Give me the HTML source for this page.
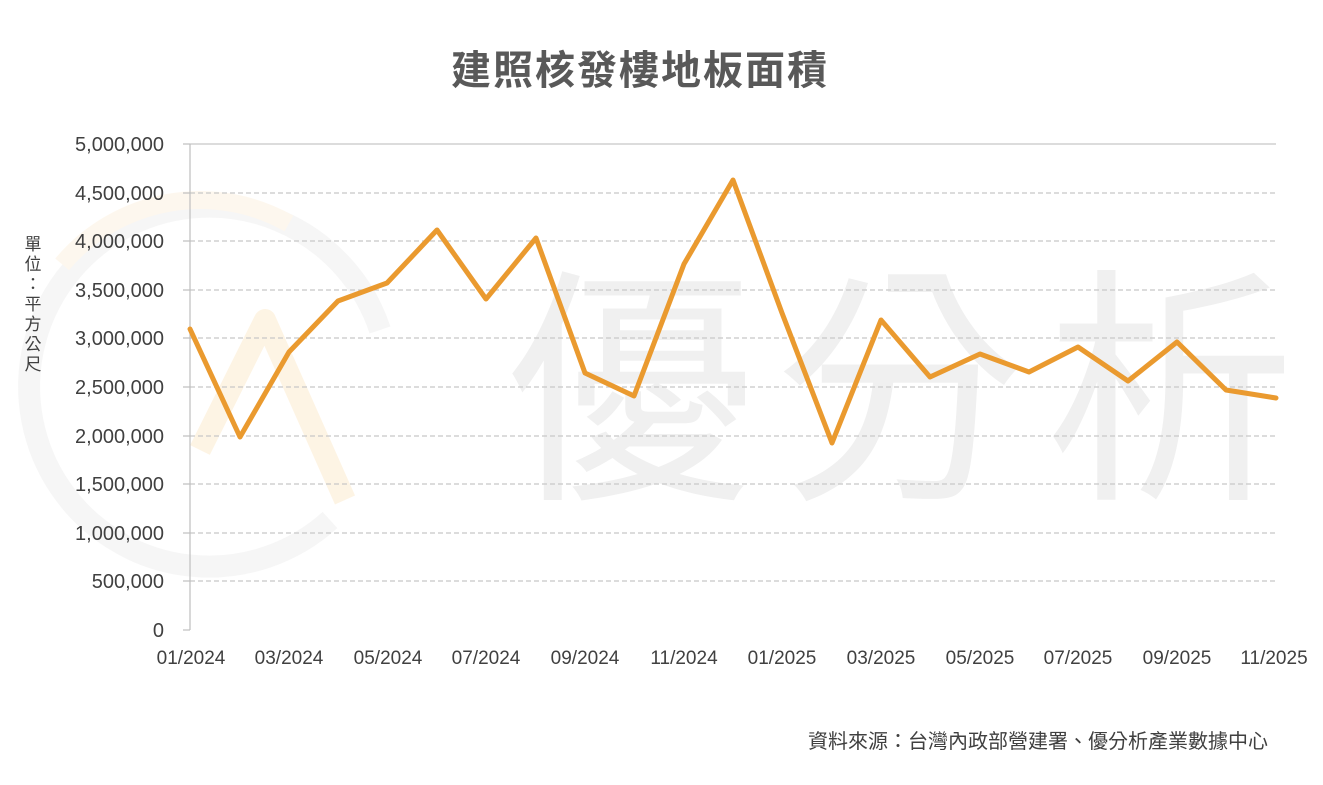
<!DOCTYPE html>
<html><head><meta charset="utf-8"><style>
html,body{margin:0;padding:0;background:#fff;}
svg{display:block;font-family:"Liberation Sans","Noto Sans CJK TC",sans-serif;}
</style></head><body>
<svg width="1323" height="785" viewBox="0 0 1323 785" xmlns="http://www.w3.org/2000/svg">
<rect width="1323" height="785" fill="#fff"/>
<g opacity="0.5">
<path d="M 330 520 A 180 180 0 1 1 380 330" fill="none" stroke="#eeeeee" stroke-width="22"/>
<path d="M 200 450 L 265 320 L 345 500" fill="none" stroke="#fdeacb" stroke-width="22" stroke-linejoin="round"/>
<circle cx="200" cy="380" r="180" fill="none" stroke="#fdf1de" stroke-width="18" stroke-dasharray="250 900" transform="rotate(-140 200 380)"/>
</g>
<text x="910" y="480" font-size="250" fill="#f0f0f0" text-anchor="middle" font-family="'Noto Sans CJK TC',sans-serif" letter-spacing="20">優分析</text>
<text x="640" y="84" font-size="40" font-weight="bold" fill="#595959" text-anchor="middle" font-family="'Noto Sans CJK TC',sans-serif" letter-spacing="2">建照核發樓地板面積</text>
<g stroke="#c8c8c8" stroke-width="1.2" stroke-dasharray="5 3">
<line x1="190" x2="1276" y1="144" y2="144" stroke-dasharray="none"/>
<line x1="190" x2="1276" y1="193" y2="193"/>
<line x1="190" x2="1276" y1="241" y2="241"/>
<line x1="190" x2="1276" y1="290" y2="290"/>
<line x1="190" x2="1276" y1="338" y2="338"/>
<line x1="190" x2="1276" y1="387" y2="387"/>
<line x1="190" x2="1276" y1="436" y2="436"/>
<line x1="190" x2="1276" y1="484" y2="484"/>
<line x1="190" x2="1276" y1="533" y2="533"/>
<line x1="190" x2="1276" y1="581" y2="581"/>
</g>
<g stroke="#bfbfbf" stroke-width="1.2">
<line x1="190" x2="190" y1="144" y2="630"/>
<line x1="183" x2="190" y1="144" y2="144"/><line x1="183" x2="190" y1="193" y2="193"/>
<line x1="183" x2="190" y1="241" y2="241"/><line x1="183" x2="190" y1="290" y2="290"/>
<line x1="183" x2="190" y1="338" y2="338"/><line x1="183" x2="190" y1="387" y2="387"/>
<line x1="183" x2="190" y1="436" y2="436"/><line x1="183" x2="190" y1="484" y2="484"/>
<line x1="183" x2="190" y1="533" y2="533"/><line x1="183" x2="190" y1="581" y2="581"/>
<line x1="183" x2="190" y1="630" y2="630"/>
</g>
<g font-size="20" fill="#404040" text-anchor="end">
<text x="164" y="151">5,000,000</text><text x="164" y="200">4,500,000</text>
<text x="164" y="248">4,000,000</text><text x="164" y="297">3,500,000</text>
<text x="164" y="345">3,000,000</text><text x="164" y="394">2,500,000</text>
<text x="164" y="443">2,000,000</text><text x="164" y="491">1,500,000</text>
<text x="164" y="540">1,000,000</text><text x="164" y="588">500,000</text>
<text x="164" y="637">0</text>
</g>
<g font-size="19" fill="#404040" text-anchor="middle">
<text x="191" y="664">01/2024</text><text x="289" y="664">03/2024</text>
<text x="388" y="664">05/2024</text><text x="486" y="664">07/2024</text>
<text x="585" y="664">09/2024</text><text x="684" y="664">11/2024</text>
<text x="782" y="664">01/2025</text><text x="881" y="664">03/2025</text>
<text x="980" y="664">05/2025</text><text x="1078" y="664">07/2025</text>
<text x="1177" y="664">09/2025</text><text x="1274" y="664">11/2025</text>
</g>
<g font-size="17" fill="#404040" text-anchor="middle" font-family="'Noto Sans CJK TC',sans-serif">
<text x="33" y="250">單</text><text x="33" y="270">位</text><text x="33" y="290">：</text>
<text x="33" y="310">平</text><text x="33" y="330">方</text><text x="33" y="350">公</text><text x="33" y="370">尺</text>
</g>
<polyline fill="none" stroke="#ea9a2f" stroke-width="5" stroke-linejoin="round" stroke-linecap="round"
points="190,329 240,437 289,352 338,301 387,283 437,230 486,299 536,238 585,373 634,396 684,264 733,180 782,313 832,443 881,320 930,377 980,354 1029,372 1078,347 1128,381 1177,342 1226,390 1276,398"/>
<text x="1268" y="748" font-size="20" fill="#404040" text-anchor="end" font-family="'Noto Sans CJK TC',sans-serif">資料來源：台灣內政部營建署、優分析產業數據中心</text>
</svg>
</body></html>
